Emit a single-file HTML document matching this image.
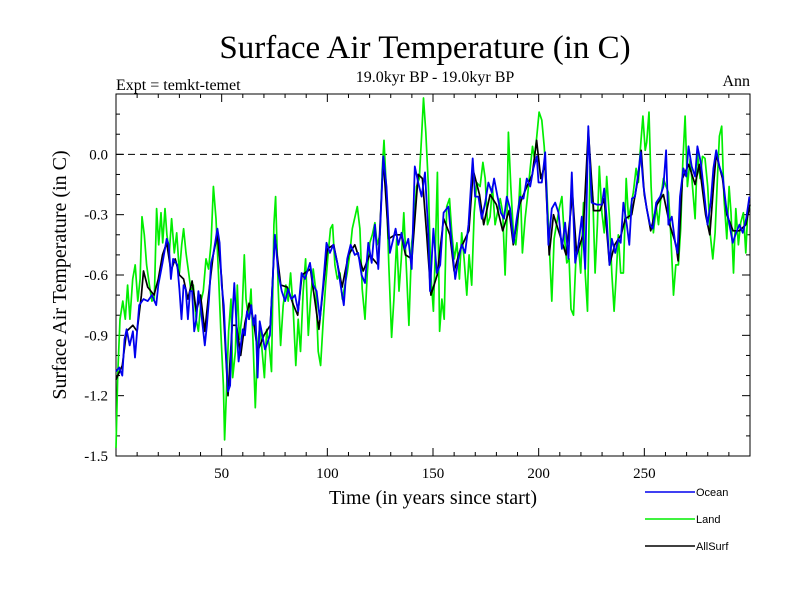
<!DOCTYPE html>
<html><head><meta charset="utf-8"><style>
body{margin:0;background:#fff;width:800px;height:600px;overflow:hidden}
svg{display:block}
</style></head><body>
<svg id="chart" width="800" height="600" xmlns="http://www.w3.org/2000/svg" font-family="'Liberation Serif', serif">
<text x="425" y="58" font-size="33" text-anchor="middle">Surface Air Temperature (in C)</text>
<text x="116" y="90" font-size="16">Expt = temkt-temet</text>
<text x="435" y="82" font-size="16" text-anchor="middle">19.0kyr BP - 19.0kyr BP</text>
<text x="750" y="86" font-size="16" text-anchor="end">Ann</text>
<text x="0" y="0" font-size="20" text-anchor="middle" transform="translate(66,275) rotate(-90)">Surface Air Temperature (in C)</text>
<text x="433" y="504" font-size="20" text-anchor="middle">Time (in years since start)</text>
<g id="axes"></g>
<g id="series"></g>
<g id="legend" font-family="'Liberation Sans', sans-serif" font-size="11"></g>
</svg>
<script>
const xTicks=[50,100,150,200,250];
const yTicks=[0.0,-0.3,-0.6,-0.9,-1.2,-1.5];
const yTickLabels=["0.0","-0.3","-0.6","-0.9","-1.2","-1.5"];
const seriesNames=["Ocean","Land","AllSurf"];
const oceanYears=[0,1.5,3,4,5,6.5,8,9,10,11,13,15,17,19,20,22,24,25,26,27,29,30,31,32,33,34,35,36,37,38,39,40,41,42,43,44,45,46,48,49,50,51,52,53,54,55,56,57,58,59,60,61,62,63,64,65,66,67,68,70.5,72.8,75.2,76.8,78.4,80,81.5,83,84.7,86.2,87.8,89.4,91.8,93.3,94.9,96.5,98,99.6,101.2,102.8,104.7,106.7,107.8,109.4,111,113,114.6,116.2,117.8,119.4,121,122.5,124.1,125.2,126.5,128,129.6,131.2,132.3,133.6,135.1,136.7,138.3,139.9,141.4,143,144.6,146.2,147.8,148.6,150.2,151.8,153.4,155,157.3,158.9,160.5,162,163.6,165.2,166.8,168.8,169.9,171.5,173.1,174.7,176.2,177.8,178.9,180.5,182.1,183.6,184.9,186.5,188.1,189.6,191.2,192.8,194.4,196,197.5,199.1,199.9,201.5,203.1,204.6,206.2,207.8,209.4,211,212.5,214.1,215.7,217.3,218.8,220.4,222,223.5,225.1,227.5,229.9,231,232.2,233.5,234.6,236.2,237.7,238.8,240.1,241.7,242.9,244.1,245.6,247.2,248.3,249.6,251.1,252.7,254,255.6,257.5,259,260.3,261.4,263,264.6,265.7,266.9,268.5,269.8,270.9,272.4,274,275.1,276.7,278.3,279.9,281.4,282.7,284,285.5,287.1,288.7,290.3,291.8,293.4,295,296.6,298.2,299.7];
const oceanValues=[-1.08,-1.06,-1.10,-0.92,-0.87,-0.95,-0.88,-1.01,-0.88,-0.75,-0.72,-0.73,-0.70,-0.75,-0.65,-0.54,-0.42,-0.45,-0.62,-0.52,-0.55,-0.67,-0.82,-0.65,-0.67,-0.82,-0.68,-0.68,-0.88,-0.82,-0.68,-0.75,-0.85,-0.95,-0.85,-0.72,-0.54,-0.50,-0.37,-0.44,-0.65,-0.75,-0.98,-1.18,-1.15,-0.82,-0.64,-0.85,-1.03,-0.95,-0.87,-0.90,-0.78,-0.82,-0.75,-0.85,-0.80,-1.11,-0.83,-0.97,-0.90,-0.40,-0.59,-0.68,-0.73,-0.67,-0.72,-0.70,-0.78,-0.59,-0.62,-0.54,-0.65,-0.68,-0.82,-0.65,-0.44,-0.49,-0.45,-0.54,-0.68,-0.75,-0.52,-0.45,-0.50,-0.49,-0.60,-0.64,-0.44,-0.54,-0.35,-0.57,-0.32,-0.01,-0.16,-0.49,-0.42,-0.37,-0.45,-0.39,-0.47,-0.42,-0.57,-0.06,-0.14,-0.21,-0.09,-0.40,-0.68,-0.37,-0.59,-0.55,-0.29,-0.26,-0.45,-0.62,-0.52,-0.45,-0.49,-0.35,-0.02,-0.21,-0.21,-0.32,-0.24,-0.14,-0.19,-0.12,-0.21,-0.29,-0.32,-0.21,-0.27,-0.44,-0.32,-0.21,-0.22,-0.12,-0.16,-0.07,-0.01,-0.14,-0.14,0.01,-0.45,-0.27,-0.24,-0.29,-0.47,-0.34,-0.52,-0.09,-0.54,-0.45,-0.31,-0.57,0.14,-0.24,-0.25,-0.25,-0.17,-0.32,-0.55,-0.42,-0.49,-0.42,-0.44,-0.24,-0.35,-0.45,-0.22,-0.21,-0.09,0.01,-0.16,-0.27,-0.35,-0.37,-0.24,-0.21,-0.16,0.02,-0.35,-0.31,-0.44,-0.49,-0.21,-0.07,-0.11,0.04,-0.06,-0.11,0.04,-0.04,-0.19,-0.35,-0.24,-0.07,0.02,-0.06,-0.11,-0.26,-0.35,-0.44,-0.39,-0.35,-0.39,-0.32,-0.21];
const landYears=[0,0.8,1.9,3.2,4.4,5.5,6.6,7.9,9.1,10.3,11.4,12.3,13.4,14.5,15.8,17,18.1,19.2,20.2,21.3,22.1,23.2,24.1,25.2,26.3,27.6,28.7,30,31.1,32,33.1,34.4,35.5,36.6,37.9,39,40.2,41.3,42.6,43.8,45,46.1,47.3,48.6,49.7,50.8,51.4,52.4,53.3,54.4,55.2,56.5,57.4,58.4,59.6,60.7,61.5,62.8,63.9,65,65.9,67,68.1,70.2,71.3,72.5,73.6,74.7,75.5,76.8,77.9,79.1,80.4,81.5,82.6,83.9,85.1,86.2,87.3,88.6,89.7,91,92.1,93.3,94.6,95.7,96.8,98.1,99.2,100.4,101.5,102.5,103.6,104.7,106,107.1,108.3,109.4,110.7,111.8,113.1,114.2,115.4,116.5,117.8,118.9,120.1,121.3,122.5,123.6,124.9,126,126.8,128,129.1,130.4,131.5,132.8,133.9,135,136.2,137.5,138.6,139.9,141,142.2,143.5,144.6,145.5,146.6,147.8,148.9,150.2,151.2,152.1,153.1,154.2,155.3,156.5,157.8,158.9,160.1,161.3,162.5,163.6,164.7,166,167.1,168.3,169.5,170.7,172.3,173.6,174.7,175.8,177,178.1,179.4,180.5,181.8,183,184.1,184.9,185.7,186.8,188.1,189.2,190.1,191.2,192.3,193.6,194.7,196,197.1,198,199.1,200.2,201.5,202.6,203.8,204.9,206.2,207.3,208.6,209.7,211,212.1,213.3,214.4,215.3,216.5,217.6,218.8,219.9,221.2,222,223.1,224.3,225.6,226.7,227.8,228.7,229.9,231,232.2,233.5,234.6,235.7,236.6,237.7,238.8,240.1,241.4,242.5,243.6,244.8,246.1,247.2,248,249.3,250.4,251.1,252.2,253.2,254.3,255.6,256.7,257.8,259,260.3,261.4,262.5,263.8,264.9,266.1,267.2,268.2,269.3,270.4,271.7,272.8,274,275.1,276.4,277.5,278.7,280,281.1,282.4,283.5,284.6,285.5,286.6,287.7,289,290.1,291,292.2,293.3,294.5,295.6,296.9,298,298.9,299.9];
const landValues=[-1.46,-1.10,-0.82,-0.73,-0.82,-0.65,-0.82,-0.62,-0.55,-0.73,-0.62,-0.31,-0.40,-0.55,-0.65,-0.73,-0.72,-0.27,-0.45,-0.29,-0.44,-0.27,-0.40,-0.49,-0.32,-0.49,-0.39,-0.59,-0.45,-0.37,-0.49,-0.59,-0.68,-0.65,-0.82,-0.88,-0.73,-0.68,-0.52,-0.57,-0.44,-0.16,-0.32,-0.62,-0.90,-1.15,-1.42,-1.15,-0.88,-0.72,-1.11,-0.98,-0.65,-0.92,-0.80,-0.50,-0.72,-0.82,-0.67,-0.98,-1.26,-0.95,-0.85,-1.11,-0.87,-0.95,-1.08,-0.35,-0.21,-0.68,-0.95,-0.75,-0.65,-0.73,-0.59,-0.78,-1.05,-0.82,-0.98,-0.68,-0.52,-0.90,-0.72,-0.57,-0.68,-0.98,-1.05,-0.82,-0.65,-0.49,-0.37,-0.35,-0.55,-0.62,-0.59,-0.72,-0.65,-0.59,-0.49,-0.37,-0.31,-0.26,-0.37,-0.67,-0.82,-0.59,-0.44,-0.40,-0.34,-0.45,-0.40,-0.07,0.07,-0.19,-0.55,-0.91,-0.72,-0.42,-0.68,-0.52,-0.29,-0.59,-0.85,-0.44,-0.35,-0.16,-0.12,0.09,0.28,0.11,-0.16,-0.59,-0.78,-0.45,-0.09,-0.88,-0.72,-0.82,-0.26,-0.22,-0.39,-0.52,-0.44,-0.62,-0.39,-0.52,-0.70,-0.50,-0.65,-0.29,-0.14,-0.16,-0.04,-0.12,-0.35,-0.31,-0.16,-0.35,-0.29,-0.22,-0.29,-0.60,-0.35,0.11,-0.16,-0.40,-0.45,-0.35,-0.12,-0.49,-0.32,-0.21,-0.07,0.04,-0.02,0.09,0.21,0.17,0.04,-0.16,-0.42,-0.73,-0.42,-0.34,-0.27,-0.21,-0.40,-0.54,-0.52,-0.77,-0.80,-0.52,-0.45,-0.59,-0.24,-0.59,-0.78,-0.06,-0.21,-0.59,-0.35,-0.06,-0.29,-0.39,-0.11,-0.32,-0.59,-0.78,-0.62,-0.40,-0.59,-0.59,-0.12,-0.32,-0.26,-0.19,-0.07,-0.14,0.01,0.19,0.02,0.06,0.21,-0.16,-0.39,-0.26,-0.35,-0.22,-0.12,-0.16,-0.19,-0.40,-0.70,-0.55,-0.55,-0.37,-0.04,0.19,-0.16,-0.02,-0.16,-0.32,0.01,-0.12,-0.01,-0.02,-0.16,-0.39,-0.52,-0.39,-0.11,0.09,0.14,-0.22,-0.42,-0.16,-0.29,-0.59,-0.27,-0.45,-0.34,-0.29,-0.49,-0.29,-0.26,-0.16];
const allYears=[0,3,5,8,10,12,13,15,18,20,22,24,26,28,30,32,34,36,38,40,42,44,46,48,50,53,55,57,59,61,63,65,67,70,73,75.2,78,81,84,86,88,92,96,100,103,107,110,113,117,120,124,126.5,129,132,135,137,140,143,145,147,149,152,155,158,160,163,167,169,172,174,177,180,183,186,188,191,194,197,199,201,203,205,207,210,213,216,218,221,223.5,226,229,231,233.5,236,239,241,244,247,248.5,250,253,256,259,262,265,266,268,271,274,276,279,281,283,284,287,289,292,295,298,300];
const allValues=[-1.12,-1.05,-0.88,-0.85,-0.88,-0.70,-0.58,-0.66,-0.70,-0.62,-0.50,-0.44,-0.58,-0.52,-0.60,-0.62,-0.72,-0.63,-0.78,-0.70,-0.88,-0.68,-0.50,-0.40,-0.62,-1.20,-0.85,-0.85,-1.00,-0.84,-0.74,-0.82,-0.98,-0.90,-0.85,-0.41,-0.65,-0.66,-0.75,-0.80,-0.60,-0.57,-0.87,-0.47,-0.45,-0.66,-0.50,-0.45,-0.58,-0.50,-0.55,-0.02,-0.42,-0.40,-0.40,-0.50,-0.52,-0.10,-0.12,-0.40,-0.70,-0.60,-0.32,-0.40,-0.58,-0.47,-0.38,-0.08,-0.20,-0.35,-0.20,-0.25,-0.38,-0.28,-0.45,-0.25,-0.17,-0.10,0.07,-0.12,-0.05,-0.50,-0.30,-0.40,-0.50,-0.20,-0.50,-0.40,0.12,-0.28,-0.28,-0.22,-0.55,-0.45,-0.40,-0.32,-0.30,-0.12,0.02,-0.20,-0.38,-0.25,-0.20,-0.35,-0.45,-0.53,-0.12,-0.05,-0.15,-0.05,-0.30,-0.40,-0.12,0.00,-0.12,-0.30,-0.38,-0.38,-0.35,-0.25];

const L=116,R=750,T=94,B=456,XMIN=0,XMAX=300,YMIN=-1.5,YMAX=0.3;
const NS='http://www.w3.org/2000/svg';
function sx(v){return L+(v-XMIN)/(XMAX-XMIN)*(R-L);}
function sy(v){return B-(v-YMIN)/(YMAX-YMIN)*(B-T);}
function mk(tag,attrs,parent){const e=document.createElementNS(NS,tag);for(const k in attrs)e.setAttribute(k,attrs[k]);parent.appendChild(e);return e;}
const axes=document.getElementById('axes');
const frame=mk('rect',{x:L,y:T,width:R-L,height:B-T,fill:'none',stroke:'#000','stroke-width':1},axes);


const zl=mk('line',{x1:L,x2:R,y1:sy(0),y2:sy(0),stroke:'#000','stroke-width':1,'stroke-dasharray':'7,5'},axes);


for(let v=10;v<XMAX;v+=10){
  const major=xTicks.includes(v);const len=major?8:4;
  const t1=mk('line',{x1:sx(v),x2:sx(v),y1:B,y2:B-len,stroke:'#000'},axes);
  
  
  const t2=mk('line',{x1:sx(v),x2:sx(v),y1:T,y2:T+len,stroke:'#000'},axes);
  
  
}
xTicks.forEach(v=>{
  const t=mk('text',{x:sx(v),y:B+22,'font-size':15,'text-anchor':'middle'},axes);t.textContent=v;
  
  
});
for(let i=-15;i<=3;i++){
  const v=i/10;const major=yTicks.some(y=>Math.abs(y-v)<1e-6);const len=major?8:4;
  const a=mk('line',{x1:L,x2:L+len,y1:sy(v),y2:sy(v),stroke:'#000'},axes);
  
  
  const b=mk('line',{x1:R,x2:R-len,y1:sy(v),y2:sy(v),stroke:'#000'},axes);
  
  
}
yTicks.forEach((v,i)=>{
  const t=mk('text',{x:L-8,y:sy(v)+5,'font-size':15,'text-anchor':'end'},axes);t.textContent=yTickLabels[i];
  
  
});
const ser=document.getElementById('series');
function draw(xs,ys,color,w,name){
  const d=xs.map((x,i)=>(i?'L':'M')+sx(x).toFixed(1)+','+sy(ys[i]).toFixed(1)).join('');
  const p=mk('path',{d:d,fill:'none',stroke:color,'stroke-width':w,'stroke-linejoin':'round'},ser);
  
  
}
draw(landYears,landValues,'#00ee00',1.7,'land-line');
draw(allYears,allValues,'#000000',1.7,'allsurf-line');
draw(oceanYears,oceanValues,'#0000ee',1.8,'ocean-line');
const leg=document.getElementById('legend');
const colors=['#0000ee','#00ee00','#000000'];
seriesNames.forEach((n,i)=>{
  const y=492+i*27;
  const l=mk('line',{x1:645,x2:695,y1:y,y2:y,stroke:colors[i],'stroke-width':1.5},leg);
  
  
  const t=mk('text',{x:696,y:y+4},leg);t.textContent=n;
  
  
});
</script>
</body></html>
